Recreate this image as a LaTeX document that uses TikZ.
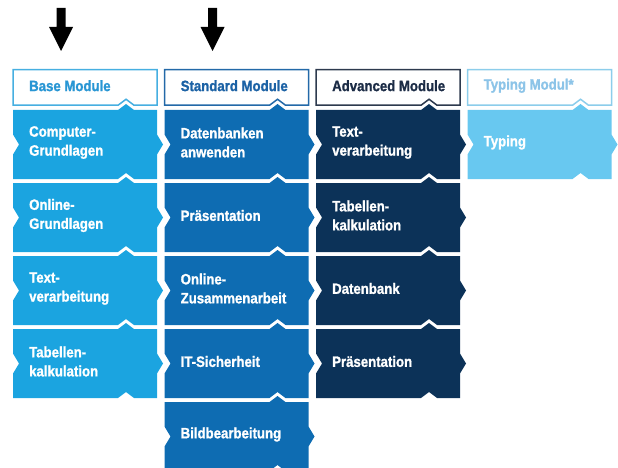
\documentclass[tikz,border=0pt]{standalone}
\usepackage{fontspec}
\setmainfont{Liberation Sans}[FakeStretch=0.88, BoldFeatures={FakeBold=1.2}]
\definecolor{baseC}{RGB}{27,164,224}
\definecolor{stdC}{RGB}{14,108,178}
\definecolor{advC}{RGB}{12,50,88}
\definecolor{typC}{RGB}{104,200,240}
\definecolor{baseH}{RGB}{70,175,225}
\definecolor{stdH}{RGB}{35,105,168}
\definecolor{advH}{RGB}{45,58,78}
\definecolor{typH}{RGB}{140,205,235}
\definecolor{baseT}{RGB}{40,150,212}
\definecolor{stdT}{RGB}{28,98,165}
\definecolor{advT}{RGB}{28,44,70}
\definecolor{typT}{RGB}{140,196,232}
\tikzset{
  modtext/.style={anchor=west, align=left, text=white, font=\fontsize{15}{19}\selectfont\bfseries, inner sep=0pt},
  hdrtext/.style={anchor=west, font=\fontsize{15}{19}\selectfont\bfseries, inner sep=0pt},
  hdrbox/.style={draw=#1, line width=1.5pt, fill=white},
  downarrow/.style={fill=black}
}
\newcommand{\modpiece}[5]{%
  \begin{scope}[shift={(#2,#3)}]
    \fill[#4] (0,0) -- (105,0) -- (113,-6) -- (121,0) -- (144,0) -- (144,24.5) -- (150,34.5) -- (144,44.5) -- (144,69) -- (121,69) -- (113,63) -- (105,69) -- (0,69) -- (0,44.5) -- (6,34.5) -- (0,24.5) -- cycle;
    \node[modtext] (#1) at (16,32.5) {#5};
  \end{scope}}
\newcommand{\modheader}[5]{%
  \begin{scope}[shift={(#2,69.75)}]
    \draw[hdrbox=#3] (0,0) -- (144,0) -- (144,35.5) -- (121,35.5) -- (113,29.5) -- (105,35.5) -- (0,35.5) -- cycle;
    \node[hdrtext, text=#4] (#1) at (16,16) {#5};
  \end{scope}}
\begin{document}
\begin{tikzpicture}[x=1pt,y=-1pt]
\useasboundingbox (0,0) rectangle (618,468);
% arrows
\begin{scope}[shift={(61,0)}]
  \coordinate (arrA) at (0,51);
  \fill[downarrow] (-4.5,8) -- (4.5,8) -- (4.5,27) -- (12,27) -- (arrA) -- (-12,27) -- (-4.5,27) -- cycle;
\end{scope}
\begin{scope}[shift={(212.5,0)}]
  \coordinate (arrB) at (0,51);
  \fill[downarrow] (-4.5,8) -- (4.5,8) -- (4.5,27) -- (12,27) -- (arrB) -- (-12,27) -- (-4.5,27) -- cycle;
\end{scope}
% headers
\modheader{hbase}{13}{baseH}{baseT}{Base Module}
\modheader{hstd}{164.5}{stdH}{stdT}{Standard Module}
\modheader{hadv}{316}{advH}{advT}{Advanced Module}
\modheader{htyp}{467.5}{typH}{typT}{Typing Modul*}
% base column
\modpiece{b1}{13}{110}{baseC}{Computer-\\Grundlagen}
\modpiece{b2}{13}{183}{baseC}{Online-\\Grundlagen}
\modpiece{b3}{13}{256}{baseC}{Text-\\verarbeitung}
\modpiece{b4}{13}{329}{baseC}{Tabellen-\\kalkulation}
% standard column
\modpiece{s1}{164.5}{110}{stdC}{Datenbanken\\anwenden}
\modpiece{s2}{164.5}{183}{stdC}{Präsentation}
\modpiece{s3}{164.5}{256}{stdC}{Online-\\Zusammenarbeit}
\modpiece{s4}{164.5}{329}{stdC}{IT-Sicherheit}
\modpiece{s5}{164.5}{402}{stdC}{Bildbearbeitung}
% advanced column
\modpiece{a1}{316}{110}{advC}{Text-\\verarbeitung}
\modpiece{a2}{316}{183}{advC}{Tabellen-\\kalkulation}
\modpiece{a3}{316}{256}{advC}{Datenbank}
\modpiece{a4}{316}{329}{advC}{Präsentation}
% typing column
\modpiece{t1}{467.5}{110}{typC}{Typing}
\end{tikzpicture}
\end{document}
